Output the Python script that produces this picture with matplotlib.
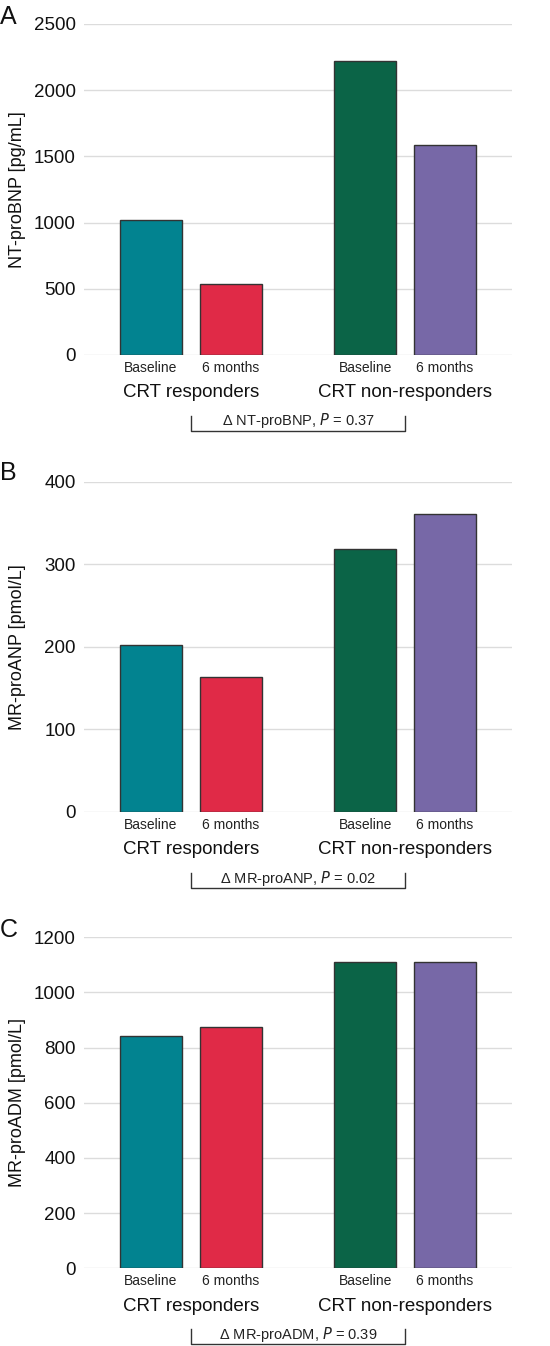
import matplotlib
matplotlib.use("Agg")
import matplotlib.pyplot as plt
from matplotlib.transforms import blended_transform_factory

plt.rcParams['font.family'] = ['Liberation Sans', 'DejaVu Sans']

# data
groups = ['CRT responders', 'CRT non-responders']
timepoints = ['Baseline', '6 months']
bar_colors = ['#028390', '#e02a47', '#0b6447', '#7768a7']

panel_letters = ['A', 'B', 'C']
markers = ['NT-proBNP', 'MR-proANP', 'MR-proADM']
units = ['pg/mL', 'pmol/L', 'pmol/L']
p_values = ['0.37', '0.02', '0.39']
ntprobnp = [1018, 534, 2223, 1583]
mrproanp = [202, 163, 318, 361]
mrproadm = [842, 875, 1112, 1109]
y_max = [2500, 400, 1200]
y_step = [500, 100, 200]

W, H = 550, 1346
fig = plt.figure(figsize=(W / 100, H / 100), dpi=100)

# bar positions (in units of bar spacing)
xpos = [0.0, 1.0, 2.69, 3.69]
group_centers = [(xpos[0] + xpos[1]) / 2, (xpos[2] + xpos[3]) / 2]

# axes top/bottom in pixels for each panel
panel_px = [(24, 355), (481.7, 812), (937.3, 1268.3)]
letter_top = [5, 461, 918]
all_values = [ntprobnp, mrproanp, mrproadm]

for i in range(3):
    top, bot = panel_px[i]
    ax = fig.add_axes([84 / W, (H - bot) / H, 428 / W, (bot - top) / H])
    vals = all_values[i]
    ax.bar(xpos, vals, width=0.78, color=bar_colors, edgecolor='#333333', linewidth=1.0, zorder=3)
    ax.set_xlim(-0.84, 4.53)
    ax.set_ylim(0, y_max[i])
    ticks = list(range(0, y_max[i] + 1, y_step[i]))
    ax.set_yticks(ticks)
    ax.set_yticklabels([str(t) for t in ticks], fontsize=13.5, color='#111111')
    ax.tick_params(axis='y', length=0, pad=6)
    ax.set_xticks([])
    ax.grid(axis='y', color='#dcdcdc', linewidth=1.0, zorder=0)
    ax.set_axisbelow(True)
    for s in ax.spines.values():
        s.set_visible(False)
    ax.set_ylabel(f'{markers[i]} [{units[i]}]', fontsize=13, color='#111111')
    ax.yaxis.set_label_coords(-0.136, 0.5)

    # timepoint labels under bars
    for k, x in enumerate(xpos):
        ax.annotate(timepoints[k % 2], xy=(x, 0), xycoords=('data', 'axes fraction'),
                    xytext=(0, -13), textcoords='offset pixels',
                    ha='center', va='center', fontsize=10, color='#222222')
    # group labels
    for g, xc in enumerate(group_centers):
        ax.annotate(groups[g], xy=(xc, 0), xycoords=('data', 'axes fraction'),
                    xytext=(0, -38), textcoords='offset pixels',
                    ha='center', va='center', fontsize=13.5, color='#111111')

    # bracket with delta p-value
    h = bot - top
    trans = blended_transform_factory(ax.transData, ax.transAxes)
    y_line = -76 / h
    y_tip = -61 / h
    x0, x1 = group_centers
    ax.plot([x0, x0, x1, x1], [y_tip, y_line, y_line, y_tip], transform=trans,
            color='#333333', linewidth=1.0, clip_on=False)
    ax.annotate(f'\u0394 {markers[i]}, $\\it{{P}}$ = {p_values[i]}', xy=((x0 + x1) / 2, 0),
                xycoords=('data', 'axes fraction'), xytext=(0, -66), textcoords='offset pixels',
                ha='center', va='center', fontsize=10.5, color='#222222')

    fig.text(0.0, 1 - letter_top[i] / H, panel_letters[i], ha='left', va='top',
             fontsize=18, color='#111111')

fig.savefig('out.png', dpi=100)
